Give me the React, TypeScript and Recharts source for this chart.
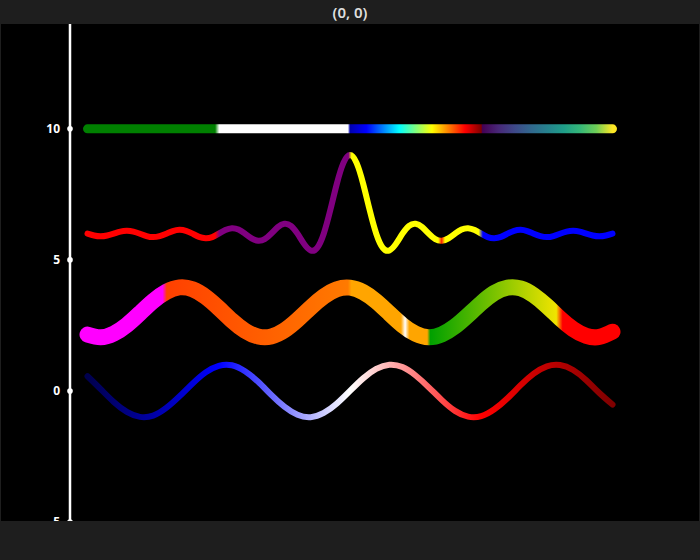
import React from 'react';
import { LineChart, Line, XAxis, YAxis } from 'recharts';

// ---- data ----
const barX = [0, 20];
const barY = [10, 10];

const sincX = [
  0, 0.25, 0.5, 0.75, 1, 1.25, 1.5, 1.75, 2, 2.25, 2.5, 2.75, 3, 3.25, 3.5, 3.75,
  4, 4.25, 4.5, 4.75, 5, 5.25, 5.5, 5.75, 6, 6.25, 6.5, 6.75, 7, 7.25, 7.5, 7.75,
  8, 8.25, 8.5, 8.75, 9, 9.25, 9.5, 9.75, 10, 10.25, 10.5, 10.75, 11, 11.25, 11.5, 11.75,
  12, 12.25, 12.5, 12.75, 13, 13.25, 13.5, 13.75, 14, 14.25, 14.5, 14.75, 15, 15.25, 15.5, 15.75,
  16, 16.25, 16.5, 16.75, 17, 17.25, 17.5, 17.75, 18, 18.25, 18.5, 18.75, 19, 19.25, 19.5, 19.75, 20,
];
const sincY = [
  6.0, 5.93, 5.9, 5.93, 6.0, 6.08, 6.11, 6.08, 6.0, 5.91, 5.87, 5.91, 6.0, 6.1, 6.15, 6.11,
  6.0, 5.88, 5.83, 5.87, 6.0, 6.14, 6.21, 6.16, 6.0, 5.82, 5.73, 5.79, 6.0, 6.25, 6.38, 6.3,
  6.0, 5.61, 5.36, 5.46, 6.0, 6.9, 7.91, 8.7, 9.0, 8.7, 7.91, 6.9, 6.0, 5.46, 5.36, 5.61,
  6.0, 6.3, 6.38, 6.25, 6.0, 5.79, 5.73, 5.82, 6.0, 6.16, 6.21, 6.14, 6.0, 5.87, 5.83, 5.88,
  6.0, 6.11, 6.15, 6.1, 6.0, 5.91, 5.87, 5.91, 6.0, 6.08, 6.11, 6.08, 6.0, 5.93, 5.9, 5.93, 6.0,
];

const waveX = [
  0, 0.5, 1, 1.5, 2, 2.5, 3, 3.5, 4, 4.5, 5, 5.5, 6, 6.5, 7, 7.5, 8, 8.5, 9, 9.5, 10,
  10.5, 11, 11.5, 12, 12.5, 13, 13.5, 14, 14.5, 15, 15.5, 16, 16.5, 17, 17.5, 18, 18.5, 19, 19.5, 20,
];
const thickY = [
  2.15, 2.05, 2.19, 2.52, 2.97, 3.43, 3.78, 3.95, 3.88, 3.59,
  3.16, 2.69, 2.3, 2.08, 2.08, 2.31, 2.71, 3.18, 3.6, 3.88,
  3.94, 3.77, 3.42, 2.96, 2.51, 2.18, 2.05, 2.16, 2.46, 2.89,
  3.35, 3.74, 3.94, 3.91, 3.65, 3.24, 2.77, 2.36, 2.1, 2.06, 2.26,
];
const divergY = [
  0.56, 0.07, -0.42, -0.8, -0.99, -0.94, -0.65, -0.21, 0.28, 0.71,
  0.96, 0.98, 0.75, 0.35, -0.15, -0.6, -0.91, -1.0, -0.84, -0.48,
  0.0, 0.48, 0.84, 1.0, 0.91, 0.59, 0.14, -0.35, -0.76, -0.98,
  -0.96, -0.7, -0.28, 0.22, 0.66, 0.94, 0.99, 0.8, 0.41, -0.08, -0.52,
];

const yTicks = [-5, 0, 5, 10];
const yTickLabels = ['−5', '0', '5', '10'];

// ---- layout ----
const W = 700;
const H = 560;
const Y_AXIS_W = 70;
const PLOT_W = W - Y_AXIS_W;
const X_DOMAIN: [number, number] = [-2 / 3, 70 / 3];
const Y_DOMAIN: [number, number] = [-5, 14];
const BG = '#1e1e1e';

const toPts = (xs: number[], ys: number[]) => xs.map((x, i) => ({ x, y: ys[i] }));
const barData = toPts(barX, barY);
const sincData = toPts(sincX, sincY);
const thickData = toPts(waveX, thickY);
const divergData = toPts(waveX, divergY);

const xPix = (v: number) =>
  Y_AXIS_W + ((v - X_DOMAIN[0]) / (X_DOMAIN[1] - X_DOMAIN[0])) * PLOT_W;

const Tick = (props: any) => {
  const { x, y, payload } = props;
  const idx = yTicks.indexOf(payload.value);
  return (
    <g>
      <circle cx={x + 10} cy={y} r={2.8} fill="#ffffff" />
      <text
        x={x}
        y={y}
        dy="0.36em"
        textAnchor="end"
        fill="#ffffff"
        fontFamily="'Noto Sans', sans-serif"
        fontWeight={700}
        fontSize={12}
      >
        {idx >= 0 ? yTickLabels[idx] : payload.value}
      </text>
    </g>
  );
};

const jet = ['#0000b0', '#0000ff', '#00ffff', '#ffff00', '#ff0000', '#800000'];
const jetPos = [0, 0.125, 0.375, 0.625, 0.875, 1];
const viridis = ['#440154', '#482878', '#3e4989', '#31688e', '#26828e', '#1f9e89', '#35b779', '#6ece58', '#fde725'];

export default function App() {
  return (
    <div style={{ position: 'absolute', left: 0, top: 0, width: W, height: H, background: BG, overflow: 'hidden' }}>
      <div
        style={{
          position: 'absolute', left: 0, top: 0, width: W, height: 24, lineHeight: '25px', textAlign: 'center',
          color: '#dedede', fontFamily: "'Noto Sans', sans-serif", fontWeight: 600, fontSize: 15,
        }}
      >
        (0, 0)
      </div>
      <div style={{ position: 'absolute', left: 1, top: 24, width: 698, height: 497, background: '#000' }} />
      <div style={{ position: 'absolute', left: 0, top: 0 }}>
        <LineChart width={W} height={H} margin={{ top: 24, right: 0, bottom: 38, left: 0 }}>
          <defs>
            <linearGradient id="gBar" gradientUnits="userSpaceOnUse" x1={xPix(0)} y1={0} x2={xPix(20)} y2={0}>
              <stop offset="0" stopColor="#008000" />
              <stop offset="0.243" stopColor="#008000" />
              <stop offset="0.251" stopColor="#ffffff" />
              <stop offset="0.496" stopColor="#ffffff" />
              {jet.map((c, i) => (
                <stop key={'j' + i} offset={0.5 + 0.25 * jetPos[i]} stopColor={c} />
              ))}
              {viridis.map((c, i) => (
                <stop key={'v' + i} offset={0.752 + 0.248 * (i / (viridis.length - 1))} stopColor={c} />
              ))}
            </linearGradient>
            <linearGradient id="gSinc" x1="0" y1="0" x2="1" y2="0">
              <stop offset="0" stopColor="#ff0000" />
              <stop offset="0.243" stopColor="#ff0000" />
              <stop offset="0.251" stopColor="#800080" />
              <stop offset="0.497" stopColor="#800080" />
              <stop offset="0.503" stopColor="#ffff00" />
              <stop offset="0.668" stopColor="#ffff00" />
              <stop offset="0.6745" stopColor="#ff2000" />
              <stop offset="0.681" stopColor="#ffff00" />
              <stop offset="0.745" stopColor="#ffff00" />
              <stop offset="0.753" stopColor="#0000ff" />
              <stop offset="1" stopColor="#0000ff" />
            </linearGradient>
            <linearGradient id="gThick" x1="0" y1="0" x2="1" y2="0">
              <stop offset="0" stopColor="#ff00ff" />
              <stop offset="0.143" stopColor="#ff00ff" />
              <stop offset="0.151" stopColor="#ff4000" />
              <stop offset="0.496" stopColor="#ff7a00" />
              <stop offset="0.503" stopColor="#ffa500" />
              <stop offset="0.597" stopColor="#ffa500" />
              <stop offset="0.605" stopColor="#ffffff" />
              <stop offset="0.613" stopColor="#ffa500" />
              <stop offset="0.647" stopColor="#ffa500" />
              <stop offset="0.653" stopColor="#00a000" />
              <stop offset="0.893" stopColor="#f0e400" />
              <stop offset="0.905" stopColor="#ff0000" />
              <stop offset="1" stopColor="#ff0000" />
            </linearGradient>
            <linearGradient id="gDiverg" x1="0" y1="0" x2="1" y2="0">
              <stop offset="0" stopColor="#00004d" />
              <stop offset="0.25" stopColor="#0000ff" />
              <stop offset="0.5" stopColor="#ffffff" />
              <stop offset="0.75" stopColor="#ff0000" />
              <stop offset="1" stopColor="#800000" />
            </linearGradient>
          </defs>
          <XAxis type="number" dataKey="x" domain={X_DOMAIN} allowDataOverflow hide />
          <YAxis
            type="number"
            domain={Y_DOMAIN}
            ticks={yTicks}
            allowDataOverflow
            width={Y_AXIS_W}
            axisLine={{ stroke: '#ffffff', strokeWidth: 2.5 }}
            tickLine={false}
            tickSize={0}
            tickMargin={10}
            tick={<Tick />}
            interval={0}
          />
          <Line data={barData} dataKey="y" type="linear" stroke="url(#gBar)" strokeWidth={9}
            strokeLinecap="round" dot={false} activeDot={false} isAnimationActive={false} />
          <Line data={sincData} dataKey="y" type="natural" stroke="url(#gSinc)" strokeWidth={6}
            strokeLinecap="round" dot={false} activeDot={false} isAnimationActive={false} />
          <Line data={thickData} dataKey="y" type="natural" stroke="url(#gThick)" strokeWidth={16}
            strokeLinecap="round" dot={false} activeDot={false} isAnimationActive={false} />
          <Line data={divergData} dataKey="y" type="natural" stroke="url(#gDiverg)" strokeWidth={6}
            strokeLinecap="round" dot={false} activeDot={false} isAnimationActive={false} />
        </LineChart>
      </div>
      <div style={{ position: 'absolute', left: 0, top: 521, width: W, height: H - 521, background: BG }} />
    </div>
  );
}
